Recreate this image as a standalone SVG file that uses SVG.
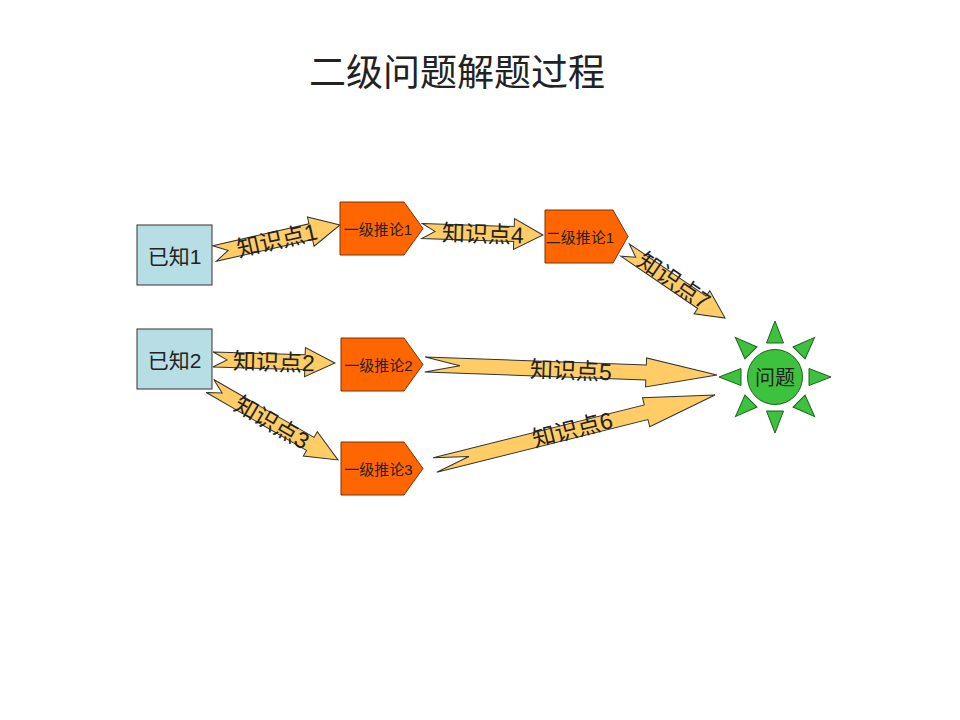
<svg xmlns="http://www.w3.org/2000/svg" width="960" height="720" viewBox="0 0 960 720">
<style>
text{font-family:"Liberation Sans","Noto Sans CJK SC",sans-serif;fill:#222;}
.box{fill:#B7DEE4;stroke:#333;stroke-width:1;}
.pent{fill:#FF6600;stroke:#7a3300;stroke-width:1;}
.arr{fill:#FFCC66;stroke:#333;stroke-width:1;stroke-linejoin:miter;}
.sun{fill:#3CC23C;stroke:#1f5f1f;stroke-width:1;}
.al{font-size:23px;text-anchor:middle;dominant-baseline:central;}
.pl{font-size:15px;text-anchor:middle;dominant-baseline:central;}
.bl{font-size:21px;text-anchor:middle;dominant-baseline:central;}
</style>
<rect width="960" height="720" fill="#fff"/>
<text id="title" x="457" y="86" font-size="37" text-anchor="middle" style="font-family:'Noto Sans CJK SC',sans-serif">二级问题解题过程</text>

<g id="connectors">
  <g id="k1" transform="translate(214.5,253.5) rotate(-12.8)">
    <path class="arr" d="M0,-8 L98.7,-8 L98.7,-15 L128.7,0 L98.7,15 L98.7,8 L0,8 L14,0 Z"/>
    <text class="al" x="64" y="1">知识点1</text>
  </g>
  <g id="k4" transform="translate(422,231) rotate(1.9)">
    <path class="arr" d="M0,-7.5 L92,-7.5 L92,-15.5 L121,0 L92,15.5 L92,7.5 L0,7.5 L13,0 Z"/>
    <text class="al" x="61" y="1">知识点4</text>
  </g>
  <g id="k7" transform="translate(625,250) rotate(34.2)">
    <path class="arr" d="M0,-7.5 L93,-7.5 L93,-14 L121,0 L93,14 L93,7.5 L0,7.5 L13,0 Z"/>
    <text class="al" x="58" y="-2">知识点7</text>
  </g>
  <g id="k2" transform="translate(213,359.5) rotate(1.64)">
    <path class="arr" d="M0,-7.5 L92,-7.5 L92,-14.5 L122,0 L92,14.5 L92,7.5 L0,7.5 L14,0 Z"/>
    <text class="al" x="61" y="1">知识点2</text>
  </g>
  <g id="k3" transform="translate(210,386) rotate(30)">
    <path class="arr" d="M0,-7.5 L115.8,-7.5 L115.8,-14 L147.8,0 L115.8,14 L115.8,7.5 L0,7.5 L14,0 Z"/>
    <text class="al" x="72" y="1">知识点3</text>
  </g>
  <g id="k5" transform="translate(425,364.5) rotate(2.06)">
    <path class="arr" d="M0,-7.5 L221.2,-7.5 L221.2,-14.5 L292.2,0 L221.2,14.5 L221.2,7.5 L0,7.5 L35,0 Z"/>
    <text class="al" x="146" y="1">知识点5</text>
  </g>
  <g id="k6" transform="translate(435,465) rotate(-14.04)">
    <path class="arr" d="M0,-7.5 L217.6,-7.5 L217.6,-15 L288.6,0 L217.6,15 L217.6,7.5 L0,7.5 L35,0 Z"/>
    <text class="al" x="142" y="-1">知识点6</text>
  </g>
</g>

<g id="known1">
  <rect class="box" x="137" y="225" width="75" height="60"/>
  <text class="bl" x="174.5" y="256">已知1</text>
</g>
<g id="known2">
  <rect class="box" x="137" y="329" width="75" height="60"/>
  <text class="bl" x="174.5" y="360">已知2</text>
</g>

<g id="inf1">
  <path class="pent" d="M340,202 L404,202 L423,228.5 L404,255 L340,255 Z"/>
  <text class="pl" x="378" y="229">一级推论1</text>
</g>
<g id="inf2">
  <path class="pent" d="M341,338 L404,338 L423,364.5 L404,391 L341,391 Z"/>
  <text class="pl" x="378.5" y="365">一级推论2</text>
</g>
<g id="inf3">
  <path class="pent" d="M341,442 L404,442 L423,468.5 L404,495 L341,495 Z"/>
  <text class="pl" x="378.5" y="469">一级推论3</text>
</g>
<g id="inf4">
  <path class="pent" d="M545,210 L613,210 L628,236.5 L613,263 L545,263 Z"/>
  <text class="pl" x="580" y="237">二级推论1</text>
</g>

<g id="problem" transform="translate(775,377)">
  <g class="sun">
    <path d="M0,-56 L8.5,-34 L-8.5,-34 Z"/>
    <path d="M0,-56 L8.5,-34 L-8.5,-34 Z" transform="rotate(45)"/>
    <path d="M0,-56 L8.5,-34 L-8.5,-34 Z" transform="rotate(90)"/>
    <path d="M0,-56 L8.5,-34 L-8.5,-34 Z" transform="rotate(135)"/>
    <path d="M0,-56 L8.5,-34 L-8.5,-34 Z" transform="rotate(180)"/>
    <path d="M0,-56 L8.5,-34 L-8.5,-34 Z" transform="rotate(225)"/>
    <path d="M0,-56 L8.5,-34 L-8.5,-34 Z" transform="rotate(270)"/>
    <path d="M0,-56 L8.5,-34 L-8.5,-34 Z" transform="rotate(315)"/>
    <circle cx="0" cy="0" r="27.5"/>
  </g>
  <text class="bl" x="0" y="1" style="font-size:20px">问题</text>
</g>
</svg>
